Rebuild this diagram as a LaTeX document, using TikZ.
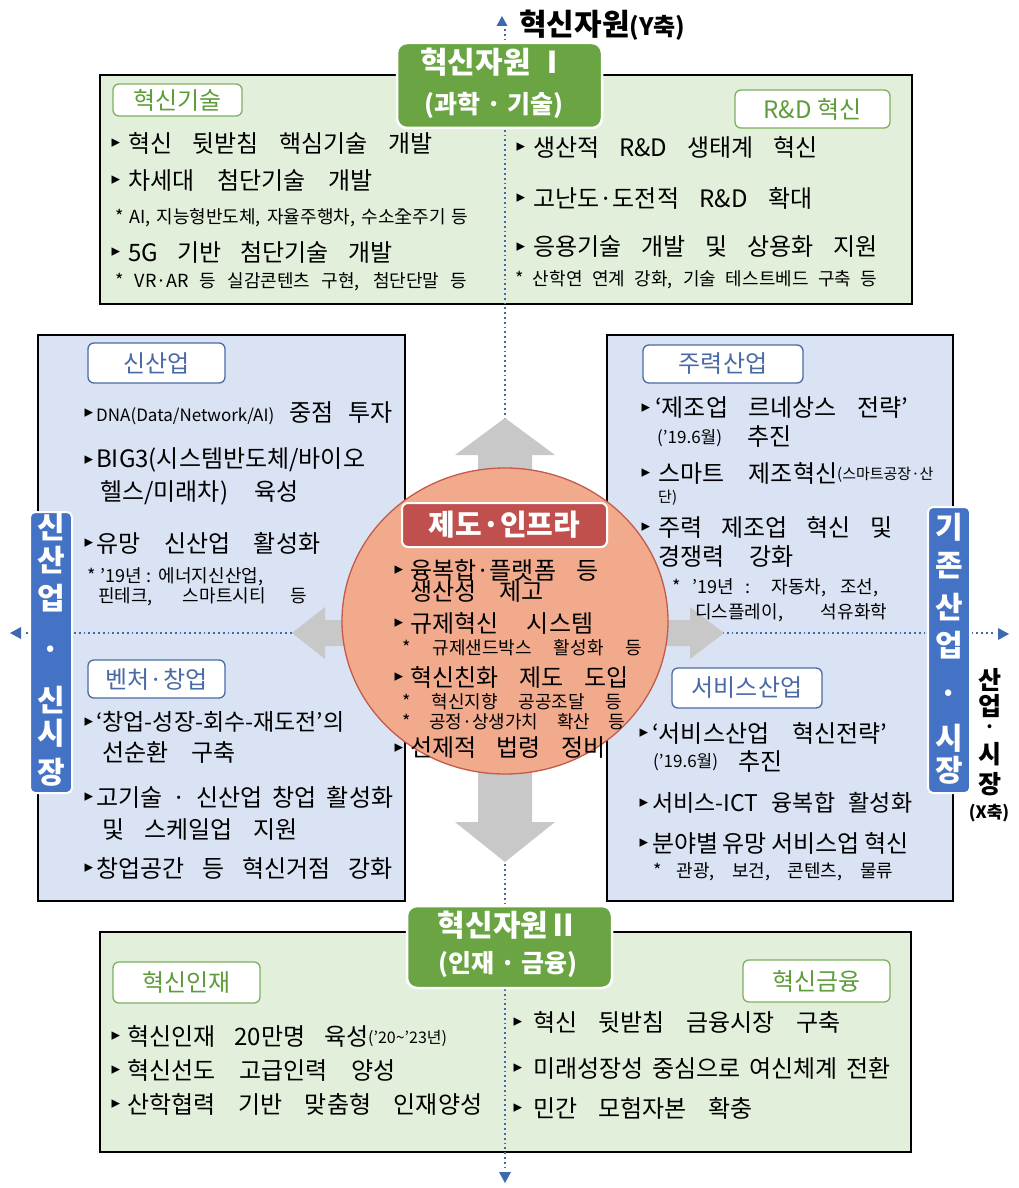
\documentclass[tikz,border=0pt]{standalone}
\usepackage{fontspec}
\setmainfont{Noto Sans CJK KR}
\newfontfamily\dejavu{DejaVu Sans}
\usetikzlibrary{shapes.geometric}
\newcommand\fsz[1]{\fontsize{#1}{#1}\selectfont}
\definecolor{gfill}{HTML}{E2EFDA}
\definecolor{bfill}{HTML}{DAE3F3}
\definecolor{tabg}{HTML}{6AA443}
\definecolor{lblg}{HTML}{5E9C3A}
\definecolor{lblb}{HTML}{4A6AA5}
\definecolor{sideb}{HTML}{4472C4}
\definecolor{corefill}{HTML}{F2AA8D}
\definecolor{coreline}{HTML}{C4594C}
\definecolor{redlbl}{HTML}{C0504D}
\definecolor{agray}{HTML}{C8C8C8}
\definecolor{axisb}{HTML}{3E69B0}
\tikzset{
  txt/.style={anchor=west,inner sep=0pt,font={\fsz{24}},text=black},
  sm/.style={anchor=west,inner sep=0pt,font={\fsz{18}},text=black},
  bul/.style={inner sep=0pt,font={\dejavu\fsz{17}}},
  gbox/.style={draw=black,line width=2.2pt,fill=gfill,inner sep=0pt},
  bbox/.style={draw=black,line width=2.2pt,fill=bfill,inner sep=0pt},
  glbl/.style={draw=lblg!80,line width=1.3pt,fill=white,rounded corners=6pt,text=lblg,font={\fsz{24}},inner sep=0pt},
  blbl/.style={draw=lblb,line width=1.3pt,fill=white,rounded corners=6pt,text=lblb,font={\fsz{24}},inner sep=0pt},
  tab/.style={fill=tabg,draw=white,line width=2.5pt,rounded corners=10pt,inner sep=0pt},
  tabt/.style={text=white,font={\bfseries\fsz{30}},inner sep=0pt},
  tabs/.style={text=white,font={\bfseries\fsz{25}},inner sep=0pt},
  side/.style={fill=sideb,draw=white,line width=2pt,rounded corners=5pt,inner sep=0pt},
  sidech/.style={text=white,font={\bfseries\fsz{30}},inner sep=0pt},
  blackch/.style={text=black,font={\bfseries\fsz{25}},inner sep=0pt},
  axisline/.style={draw=axisb,line width=1.6pt,dash pattern=on 1.8pt off 3pt},
}
\newcommand\TL[5]{\node[txt] (#1) at (#2,#3) {\makebox[#4pt][s]{#5}};}
\newcommand\TS[5]{\node[sm] (#1) at (#2,#3) {\makebox[#4pt][s]{#5}};}
\newcommand\BU[3]{\node[bul] (#1) at (#2,#3) {▸};}
\begin{document}
\begin{tikzpicture}[x=1pt,y=-1pt]
\fill[white] (0,0) rectangle (1019,1188);
\useasboundingbox (0,0) rectangle (1019,1188);

% boxes
\node[gbox,minimum width=812pt,minimum height=229pt] (topbox) at (506,189.5) {};
\node[gbox,minimum width=811pt,minimum height=220pt] (botbox) at (505.5,1042) {};
\node[bbox,minimum width=367pt,minimum height=566pt] (leftbox) at (221.5,618) {};
\node[bbox,minimum width=346pt,minimum height=566pt] (rightbox) at (780,618) {};

% axes
\coordinate (yt) at (505,29);
\coordinate (yb) at (505,1168);
\coordinate (xl) at (26,633);
\coordinate (xr) at (994,633);
\draw[axisline] (yt) -- (yb);
\draw[axisline] (xl) -- (xr);
\fill[axisb] (502,16) -- (507.5,26) -- (496.5,26) -- cycle;
\fill[axisb] (505,1183) -- (499,1172) -- (511,1172) -- cycle;
\fill[axisb] (10,633) -- (21,627) -- (21,639) -- cycle;
\fill[axisb] (1009,634) -- (998,628) -- (998,640) -- cycle;

% gray double arrows
\fill[agray] (505,418) -- (555,455) -- (532,455) -- (532,822) -- (555,822) -- (505,862)
  -- (455,822) -- (478,822) -- (478,455) -- (455,455) -- cycle;
\fill[agray] (292,633) -- (325,607) -- (325,620) -- (690,620) -- (690,607) -- (724,633)
  -- (690,659) -- (690,646) -- (325,646) -- (325,659) -- cycle;

% core ellipse
\node[ellipse,draw=coreline,line width=1.3pt,fill=corefill,minimum width=326pt,minimum height=306pt,inner sep=0pt] (core) at (505,621) {};

% top axis label
\node[anchor=west,inner sep=0pt] (ylab) at (519,25) {\bfseries\fsz{30}혁신자원\fsz{24}(Y축)};

% tabs
\node[tab,minimum width=205pt,minimum height=85pt] (tab1) at (499.5,85.5) {};
\node[tabt] (tab1a) at (494,62) {혁신자원 Ⅰ};
\node[tabs] (tab1b) at (494,105) {(과학 · 기술)};
\node[tab,minimum width=205pt,minimum height=82pt] (tab2) at (509.5,947) {};
\node[tabt] (tab2a) at (508,925) {혁신자원Ⅱ};
\node[tabs] (tab2b) at (508,965) {(인재 · 금융)};

% labels
\node[glbl,minimum width=129pt,minimum height=32pt] (lb1) at (177.5,100) {혁신기술};
\node[glbl,minimum width=155pt,minimum height=38pt] (lb2) at (812.5,109) {R\&D 혁신};
\node[blbl,minimum width=137pt,minimum height=40pt] (lb3) at (156.5,363) {신산업};
\node[blbl,minimum width=137pt,minimum height=38pt] (lb4) at (156.5,679) {벤처·창업};
\node[blbl,minimum width=160pt,minimum height=38pt] (lb5) at (723,364) {주력산업};
\node[blbl,minimum width=150pt,minimum height=40pt] (lb6) at (747,688) {서비스산업};
\node[glbl,minimum width=147pt,minimum height=41pt] (lb7) at (186.5,982.5) {혁신인재};
\node[glbl,minimum width=147pt,minimum height=42pt] (lb8) at (816.5,981) {혁신금융};
\node[fill=redlbl,draw=white,line width=2pt,rounded corners=6pt,minimum width=205pt,minimum height=44pt,text=white,font={\bfseries\fsz{29}},inner sep=0pt] (lb9) at (504.5,525) {제도·인프라};

% top left
\BU{b1}{116}{143}\TL{t1}{128}{143}{304}{혁신 뒷받침 핵심기술 개발}
\BU{b2}{116}{180}\TL{t2}{128}{180}{244}{차세대 첨단기술 개발}
\TS{t3}{115}{218}{353}{* AI, 지능형반도체, 자율주행차, 수소全주기 등}
\BU{b4}{116}{252}\TL{t4}{128}{252}{264}{5G 기반 첨단기술 개발}
\TS{t5}{115}{282}{352}{* VR·AR 등 실감콘텐츠 구현, 첨단단말 등}
% top right
\BU{b6}{521}{147}\TL{t6}{533}{147}{284}{생산적 R\&D 생태계 혁신}
\BU{b7}{521}{198}\TL{t7}{533}{198}{279}{고난도·도전적 R\&D 확대}
\BU{b8}{521}{247}\TL{t8}{533}{247}{344}{응용기술 개발 및 상용화 지원}
\TS{t9}{515}{280}{362}{* 산학연 연계 강화, 기술 테스트베드 구축 등}

% left middle
\BU{b10}{89}{413}\TL{t10}{96}{413}{296}{{\fsz{17}DNA(Data/Network/AI)} 중점 투자}
\BU{b11}{89}{460}\TL{t11}{96}{460}{296}{BIG3(시스템반도체/바이오}
\TL{t12}{100}{493}{198}{헬스/미래차) 육성}
\BU{b13}{89}{543}\TL{t13}{96}{543}{224}{유망 신산업 활성화}
\TS{t14}{87}{577}{176}{* ’19년 : 에너지신산업,}
\TS{t15}{98}{597}{209}{핀테크, 스마트시티 등}
\BU{b16}{89}{722}\node[txt,font={\fsz{23}}] (t16) at (96,722) {\makebox[259pt][s]{‘창업-성장-회수-재도전’의}};
\TL{t17}{102}{752}{133}{선순환 구축}
\BU{b18}{89}{797}\TL{t18}{96}{797}{297}{고기술 · 신산업 창업 활성화}
\TL{t19}{102}{830}{195}{및 스케일업 지원}
\BU{b20}{89}{868}\TL{t20}{96}{868}{296}{창업공간 등 혁신거점 강화}

% center
\BU{b21}{399}{570}\TL{t21}{410}{570}{188}{융복합·플랫폼 등}
\TL{t22}{410}{592}{133}{생산성 제고}
\BU{b23}{399}{623}\TL{t23}{410}{623}{183}{규제혁신 시스템}
\TS{t24}{402}{648}{240}{* 규제샌드박스 활성화 등}
\BU{b25}{399}{677}\TL{t25}{410}{677}{218}{혁신친화 제도 도입}
\TS{t26}{402}{702}{220}{* 혁신지향 공공조달 등}
\TS{t27}{402}{722}{223}{* 공정·상생가치 확산 등}
\BU{b28}{399}{748}\TL{t28}{410}{748}{195}{선제적 법령 정비}

% right middle
\BU{b29}{646}{408}\TL{t29}{655}{408}{253}{‘제조업 르네상스 전략’}
\node[sm,font={\fsz{17}}] (t30) at (657,438) {(’19.6월)};
\node[txt] (t31) at (747,437) {추진};
\BU{b32}{646}{473}\TL{t32}{658}{473}{179}{스마트 제조혁신}
\node[sm,font={\fsz{15}}] (t33) at (837,475) {(스마트공장·산};
\node[sm,font={\fsz{15}}] (t34) at (658,498) {단)};
\BU{b35}{646}{527}\TL{t35}{658}{527}{234}{주력 제조업 혁신 및}
\TL{t36}{658}{557}{135}{경쟁력 강화}
\TS{t37}{672}{588}{206}{* ’19년 : 자동차, 조선,}
\TS{t38}{695}{613}{192}{디스플레이, 석유화학}
\BU{b39}{644}{733}\TL{t39}{652}{733}{235}{‘서비스산업 혁신전략’}
\node[sm,font={\fsz{17}}] (t40) at (653,762) {(’19.6월)};
\node[txt] (t41) at (738,762) {추진};
\BU{b42}{644}{803}\node[txt,font={\fsz{23}}] (t42) at (652,803) {\makebox[260pt][s]{서비스-ICT 융복합 활성화}};
\BU{b43}{644}{843}\TL{t43}{652}{843}{256}{분야별 유망 서비스업 혁신}
\TS{t44}{653}{872}{240}{* 관광, 보건, 콘텐츠, 물류}

% bottom left
\BU{b45}{116}{1036}\TL{t45}{127}{1036}{241}{혁신인재 20만명 육성}
\node[sm,font={\fsz{16}}] (t46) at (368,1038) {(’20\textasciitilde’23년)};
\BU{b47}{116}{1070}\TL{t47}{127}{1070}{268}{혁신선도 고급인력 양성}
\BU{b48}{116}{1104}\TL{t48}{127}{1104}{355}{산학협력 기반 맞춤형 인재양성}
% bottom right
\BU{b49}{518}{1022}\TL{t49}{533}{1022}{307}{혁신 뒷받침 금융시장 구축}
\BU{b50}{518}{1068}\TL{t50}{533}{1068}{357}{미래성장성 중심으로 여신체계 전환}
\BU{b51}{518}{1108}\TL{t51}{533}{1108}{219}{민간 모험자본 확충}

% side labels
\node[side,minimum width=42pt,minimum height=281pt] (sideL) at (51,652.5) {};
\foreach \c/\yy [count=\i] in {신/527,산/560,업/598,·/653,신/700,시/733,장/772}
  \node[sidech] (sl\i) at (51,\yy) {\c};
\node[side,minimum width=42pt,minimum height=286pt] (sideR) at (949,650) {};
\foreach \c/\yy [count=\i] in {기/527,존/566,산/607,업/645,·/697,시/738,장/770}
  \node[sidech] (sr\i) at (949,\yy) {\c};
\foreach \c/\yy [count=\i] in {산/680,업/706,시/754,장/784}
  \node[blackch] (xk\i) at (990,\yy) {\c};
\node[inner sep=0pt,font={\bfseries\fsz{18}}] (xdot) at (990,729) {·};
\node[inner sep=0pt,font={\bfseries\fsz{17}}] (xlab) at (989,813) {(X축)};
\end{tikzpicture}
\end{document}
